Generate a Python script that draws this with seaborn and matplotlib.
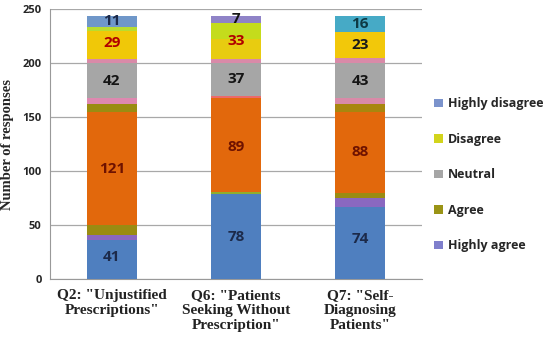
import numpy as np
import pandas as pd
import matplotlib
matplotlib.use("Agg")
import matplotlib.pyplot as plt
from matplotlib.patches import Patch
import seaborn as sns

# kategori pertanyaan
categories = ['Q2: "Unjustified\nPrescriptions"',
              'Q6: "Patients\nSeeking Without\nPrescription"',
              'Q7: "Self-\nDiagnosing\nPatients"']

# nilai yang ditulis di batang (bawah -> atas)
highly_agree = [41, 78, 74]
agree = [121, 89, 88]
neutral = [42, 37, 43]
disagree = [29, 33, 23]
highly_disagree = [11, 7, 16]

# potongan warna yang terlihat di tiap batang (bawah -> atas)
seg_blue = [36, 79, 67]
seg_purple = [5, 0, 8]
seg_olive_low = [9, 2, 5]
seg_orange = [105, 87, 75]
seg_olive_high = [7, 0, 7]
seg_pink_low = [6, 1, 6]
seg_gray = [32, 31, 32]
seg_pink_high = [4, 4, 5]
seg_yellow = [26, 18, 24]
seg_lime = [3, 15, 0]
seg_top = [11, 7, 15]

legend_labels = ["Highly disagree", "Disagree", "Neutral", "Agree", "Highly agree"]
legend_colors = ["#7b93cc", "#d2d41c", "#a6a6a6", "#9a9416", "#7f7fcc"]

layers = [
    (seg_blue, ["#4f7fbf", "#4f7fbf", "#4f7fbf"]),
    (seg_purple, ["#8a68c0", "#8a68c0", "#8a68c0"]),
    (seg_olive_low, ["#9a8c12", "#8fae2c", "#9a8c12"]),
    (seg_orange, ["#e2680c", "#e2680c", "#e2680c"]),
    (seg_olive_high, ["#9a8c12", "#9a8c12", "#a8860e"]),
    (seg_pink_low, ["#de88b0", "#ec6a6a", "#d98aa8"]),
    (seg_gray, ["#a6a6a6", "#a6a6a6", "#a6a6a6"]),
    (seg_pink_high, ["#d98aa8", "#d98aa8", "#d98aa8"]),
    (seg_yellow, ["#f0c808", "#e8cc10", "#f2c80a"]),
    (seg_lime, ["#b8dc30", "#c4dc1c", "#c4dc1c"]),
    (seg_top, ["#6f97c9", "#8f83c7", "#46aac6"]),
]

sns.set_style("white")
fig = plt.figure(figsize=(5.5, 3.47), dpi=100)
ax = fig.add_axes([0.0909, 0.196, 0.6764, 0.778])

# tumpukan: gambar total kumulatif dari atas ke bawah
cum = np.cumsum([np.array(v) for v, _ in layers], axis=0)
for i in range(len(layers) - 1, -1, -1):
    df = pd.DataFrame({"cat": categories, "val": cum[i]})
    sns.barplot(data=df, x="cat", y="val", hue="cat", palette=layers[i][1],
                legend=False, width=0.4, saturation=1, ax=ax, zorder=3,
                edgecolor="none", linewidth=0)

# label angka
nominal = [highly_agree, agree, neutral, disagree, highly_disagree]
label_colors = [
    ["#1c2a4a", "#1c2a4a", "#1c2a4a"],
    ["#6e1200", "#6e1200", "#6e1200"],
    ["#151515", "#151515", "#151515"],
    ["#b00000", "#b00000", "#1a1a1a"],
    ["#1c2a4a", "#151515", "#0e3a44"],
]
nom_cum = np.cumsum(nominal, axis=0)
for k in range(len(nominal)):
    for j in range(len(categories)):
        mid = nom_cum[k][j] - nominal[k][j] / 2
        ax.text(j, mid, str(nominal[k][j]), ha="center", va="center",
                fontsize=11, fontweight="bold", family="Open Sans",
                color=label_colors[k][j], zorder=5)

ax.set_ylim(0, 250)
ax.set_xlim(-0.5, 2.5)
ax.set_yticks([0, 50, 100, 150, 200, 250])
ax.yaxis.grid(True, color="#a8a8a8", linewidth=0.9, zorder=0)
ax.set_axisbelow(True)
for s in ["top", "right"]:
    ax.spines[s].set_visible(False)
ax.spines["left"].set_color("#999999")
ax.spines["bottom"].set_color("#999999")
ax.tick_params(axis="y", length=0, pad=6)
ax.tick_params(axis="x", which="major", length=0, pad=7)
ax.set_xticks([0.5, 1.5, 2.5], minor=True)
ax.tick_params(axis="x", which="minor", length=4, color="#999999")
for t in ax.get_yticklabels():
    t.set_fontfamily("Open Sans")
    t.set_fontweight("bold")
    t.set_fontsize(8)
for t in ax.get_xticklabels():
    t.set_fontfamily("Liberation Serif")
    t.set_fontweight("bold")
    t.set_fontsize(11)
    t.set_linespacing(1.2)
    t.set_color("#222222")
ax.set_xlabel("")
ax.set_ylabel("Number of responses", family="Liberation Serif",
              fontweight="bold", fontsize=10.5, labelpad=6)

handles = [Patch(facecolor=c, edgecolor="none") for c in legend_colors]
leg = fig.legend(handles, legend_labels, loc="upper left",
                 bbox_to_anchor=(0.769, 0.752), frameon=False,
                 prop={"family": "Open Sans", "weight": "bold", "size": 9},
                 handlelength=0.7, handleheight=0.7, handletextpad=0.4,
                 labelspacing=1.8)

plt.savefig("out.png", dpi=100)
